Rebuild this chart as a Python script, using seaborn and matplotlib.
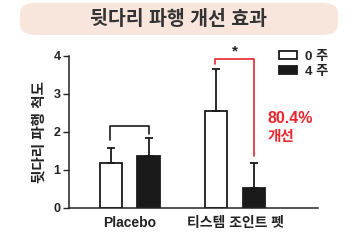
import pandas as pd
import seaborn as sns
import matplotlib.pyplot as plt
from matplotlib.patches import FancyBboxPatch

# 데이터
groups = ["Placebo", "티스템 조인트 펫"]
weeks = ["0 주", "4 주"]
mean_0w = [1.18, 2.55]
mean_4w = [1.38, 0.52]
err_0w = [0.41, 1.10]
err_4w = [0.47, 0.66]

df = pd.DataFrame({
    "group": groups * 2,
    "week": [weeks[0]] * 2 + [weeks[1]] * 2,
    "value": mean_0w + mean_4w,
})

sns.set_style("ticks")
fam = ["Liberation Sans", "Noto Sans CJK KR", "DejaVu Sans"]
plt.rcParams["font.family"] = fam

fig = plt.figure(figsize=(3.48, 2.41), dpi=100)
ax = fig.add_axes([0.198, 0.137, 0.716, 0.631])

sns.barplot(data=df, x="group", y="value", hue="week", hue_order=weeks,
            palette=["white", "#1a1a1a"], edgecolor="#1a1a1a", linewidth=1.3,
            width=0.72, gap=0.4, ax=ax)

# 오차 막대 (위쪽만)
offs = [-0.18, 0.18]
for j, (m, e) in enumerate([(mean_0w, err_0w), (mean_4w, err_4w)]):
    xs = [i + offs[j] for i in range(len(groups))]
    ax.errorbar(xs, m, yerr=[[0] * len(e), e], fmt="none", ecolor="#1a1a1a",
                elinewidth=1.3, capsize=3, capthick=1.3, zorder=1)

ax.set_xlim(-0.58, 1.79)
ax.set_ylim(0, 4)
ax.set_yticks([0, 1, 2, 3, 4])
ax.set_xlabel("")
ax.set_ylabel("뒷다리 파행 척도", fontsize=10.5, fontweight="bold", color="#222222", labelpad=5)
ax.tick_params(axis="x", length=0, pad=6, labelsize=10)
ax.tick_params(axis="y", length=4, width=1, labelsize=9, pad=2)
for lbl in ax.get_xticklabels() + ax.get_yticklabels():
    lbl.set_fontweight("bold")
    lbl.set_color("#222222")
sns.despine(ax=ax)
for s in ["left", "bottom"]:
    ax.spines[s].set_linewidth(1.1)
    ax.spines[s].set_color("#222222")

# Placebo 괄호
ax.plot([-0.19, -0.19, 0.18, 0.18], [1.79, 2.15, 2.15, 1.95], color="#1a1a1a", lw=1.2)

# 유의차 괄호 (빨강)
red = "#e8262d"
ax.plot([1 - 0.19, 1 - 0.19, 1 + 0.18, 1 + 0.18], [3.79, 3.92, 3.92, 1.37],
        color=red, lw=1.2, clip_on=False)
ax.text(1.0, 4.13, "*", ha="center", va="center", fontsize=11, fontweight="bold",
        color="#222222", clip_on=False)
ax.text(1.305, 2.36, "80.4%", ha="left", va="center", fontsize=11.5,
        fontweight="bold", color=red)
ax.text(1.305, 1.87, "개선", ha="left", va="center", fontsize=10.5,
        fontweight="bold", color=red)

leg = ax.legend(loc="upper left", bbox_to_anchor=(0.845, 1.035), frameon=False,
                borderpad=0, borderaxespad=0,
                handlelength=1.36, handleheight=0.5, handletextpad=0.6,
                labelspacing=0.25, prop={"weight": "bold", "size": 9.5})
for t in leg.get_texts():
    t.set_color("#222222")

# 제목 박스
box = FancyBboxPatch((0.0575, 0.855), 0.914, 0.133, transform=fig.transFigure,
                     boxstyle="round,pad=0,rounding_size=0.045",
                     facecolor="#f8e5dc", edgecolor="none")
fig.patches.append(box)
fig.text(0.512, 0.921, "뒷다리 파행 개선 효과", ha="center", va="center",
         fontsize=14, fontweight="bold", color="#333333")

plt.savefig("out.png", dpi=100)
